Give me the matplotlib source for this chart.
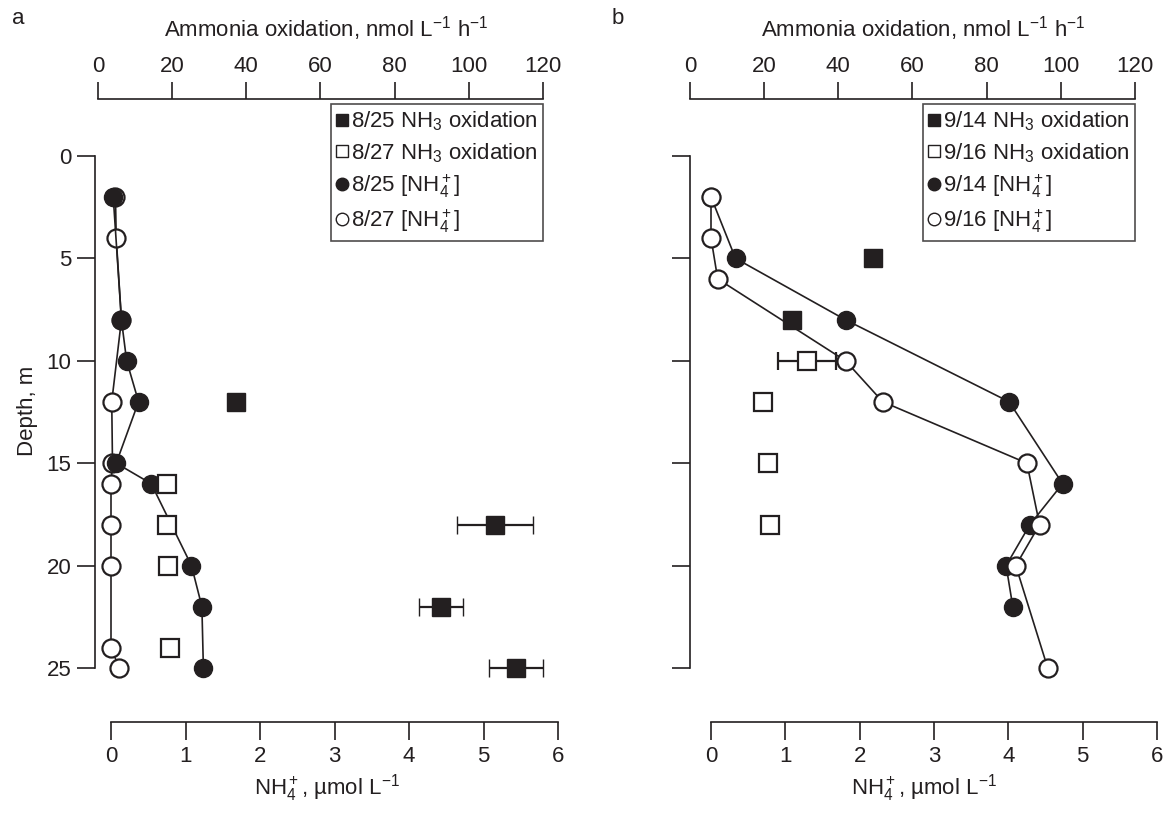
import matplotlib.pyplot as plt
from matplotlib.lines import Line2D

plt.rcParams['font.family'] = ['Liberation Sans', 'DejaVu Sans']
plt.rcParams['mathtext.fontset'] = 'custom'
plt.rcParams['mathtext.rm'] = 'Liberation Sans'
plt.rcParams['mathtext.it'] = 'Liberation Sans'
plt.rcParams['mathtext.default'] = 'regular'

INK = '#231f20'
FS = 16

# ---- panel a (8/25, 8/27) ----
a_nh4_fill_depth = [2, 8, 10, 12, 15, 16, 20, 22, 25]
a_nh4_fill = [0.03, 0.14, 0.21, 0.37, 0.07, 0.54, 1.08, 1.22, 1.24]
a_nh4_open_depth = [2, 4, 8, 12, 15, 16, 18, 20, 24, 25]
a_nh4_open = [0.06, 0.07, 0.14, 0.01, 0.02, 0.0, 0.0, 0.0, 0.0, 0.11]
a_ox_fill_depth = [12, 18, 22, 25]
a_ox_fill = [37.2, 107.1, 92.5, 112.7]
a_ox_fill_err = [0, 10.2, 5.9, 7.3]
a_ox_open_depth = [16, 18, 20, 24]
a_ox_open = [18.6, 18.6, 18.9, 19.4]
a_ox_open_err = [0, 0, 0, 0]
a_labels = ['8/25 NH$_3$ oxidation', '8/27 NH$_3$ oxidation',
            '8/25 [NH$_4^+$]', '8/27 [NH$_4^+$]']

# ---- panel b (9/14, 9/16) ----
b_nh4_fill_depth = [2, 5, 8, 12, 16, 18, 20, 22]
b_nh4_fill = [0.0, 0.33, 1.81, 4.01, 4.73, 4.29, 3.97, 4.06]
b_nh4_open_depth = [2, 4, 6, 10, 12, 15, 18, 20, 25]
b_nh4_open = [0.0, 0.0, 0.09, 1.81, 2.31, 4.25, 4.42, 4.10, 4.53]
b_ox_fill_depth = [5, 8]
b_ox_fill = [49.4, 27.5]
b_ox_fill_err = [0, 0]
b_ox_open_depth = [10, 12, 15, 18]
b_ox_open = [31.5, 19.7, 21.0, 21.6]
b_ox_open_err = [7.8, 0, 0, 0]
b_labels = ['9/14 NH$_3$ oxidation', '9/16 NH$_3$ oxidation',
            '9/14 [NH$_4^+$]', '9/16 [NH$_4^+$]']

W, H = 1172, 813
fig = plt.figure(figsize=(W / 100, H / 100), dpi=100)

# vertical layout in pixels: top axis line, depth 0, depth 25, bottom axis line
Y_TOP, Y_D0, Y_D25, Y_BOT = 99, 156, 668, 722
PX_M = (Y_D25 - Y_D0) / 25
YLIM = (25 + (Y_BOT - Y_D25) / PX_M, -(Y_D0 - Y_TOP) / PX_M)


def panel(x_left, x_right, nh4_0, ox_0, nh4_data, ox_data, labels,
          filled_on_top, depth_labels, leg_right):
    # nh4 axis: 0 at nh4_0 px, 6 at x_right px ; ox axis: 0 at ox_0, 3.708 px per unit
    px_nh4 = (x_right - nh4_0) / 6
    px_ox = 3.708
    ax = fig.add_axes([x_left / W, 1 - Y_BOT / H, (x_right - x_left) / W, (Y_BOT - Y_TOP) / H])
    ax.set_facecolor('none')
    ax.set_xlim(-(nh4_0 - x_left) / px_nh4, 6)
    ax.set_ylim(*YLIM)

    fd, fv, od, ov = nh4_data
    ms = 13
    z_fill, z_open = (3, 2) if filled_on_top else (2, 3)
    ax.plot(ov, od, '-o', color=INK, mfc='white', mec=INK, ms=ms,
            mew=1.6, lw=1.2, zorder=z_open, clip_on=False)
    ax.plot(fv, fd, '-o', color=INK, mfc=INK, mec=INK, ms=ms,
            mew=1.0, lw=1.2, zorder=z_fill, clip_on=False)

    ax.spines['right'].set_visible(False)
    ax.spines['top'].set_visible(False)
    ax.spines['bottom'].set_bounds(0, 6)
    ax.spines['left'].set_bounds(0, 25)
    for s in ('left', 'bottom'):
        ax.spines[s].set_color(INK)
        ax.spines[s].set_linewidth(1.2)
    ax.set_xticks(range(0, 7))
    ax.set_yticks([0, 5, 10, 15, 20, 25])
    if not depth_labels:
        ax.set_yticklabels([])
    ax.tick_params(direction='out', length=13, width=1.2, color=INK,
                   labelsize=FS, labelcolor=INK)
    ax.tick_params(axis='x', length=13, pad=4)
    ax.tick_params(axis='y', length=13, pad=4)
    ax.set_xlabel('NH$_4^+$, µmol L$^{-1}$', fontsize=FS, color=INK, labelpad=4)

    ax2 = ax.twiny()
    ax2.set_xlim(-(ox_0 - x_left) / px_ox, (x_right - ox_0) / px_ox)
    ax2.set_ylim(*YLIM)
    (sfd, sfv, sfe), (sod, sov, soe) = ox_data
    ax2.errorbar(sfv, sfd, xerr=sfe, fmt='s', color=INK, mfc=INK,
                 mec=INK, ms=12.5, mew=1.0, ecolor=INK, elinewidth=1.6,
                 capsize=6.5, capthick=1.6, zorder=4)
    ax2.errorbar(sov, sod, xerr=soe, fmt='s', color=INK, mfc='white',
                 mec=INK, ms=12.5, mew=1.6, ecolor=INK, elinewidth=1.6,
                 capsize=6.5, capthick=1.6, zorder=4)
    for s in ('left', 'right', 'bottom'):
        ax2.spines[s].set_visible(False)
    ax2.spines['top'].set_bounds(0, 120)
    ax2.spines['top'].set_color(INK)
    ax2.spines['top'].set_linewidth(1.2)
    ax2.set_xticks(range(0, 121, 20))
    ax2.tick_params(direction='out', length=12, width=1.2, color=INK,
                    labelsize=FS, labelcolor=INK, pad=4)
    ax2.set_xlabel('Ammonia oxidation, nmol L$^{-1}$ h$^{-1}$', fontsize=FS,
                   color=INK, labelpad=14)

    handles = [
        Line2D([], [], ls='none', marker='s', ms=9, mfc=INK, mec=INK),
        Line2D([], [], ls='none', marker='s', ms=9, mfc='white', mec=INK, mew=1.0),
        Line2D([], [], ls='none', marker='o', ms=9, mfc=INK, mec=INK),
        Line2D([], [], ls='none', marker='o', ms=9, mfc='white', mec=INK, mew=1.0),
    ]
    leg = ax2.legend(handles, labels, loc='upper right',
                     bbox_to_anchor=(leg_right / W, 1 - 104 / H),
                     bbox_transform=fig.transFigure, fontsize=FS,
                     frameon=True, fancybox=False, edgecolor=INK,
                     handlelength=0.5, handletextpad=0.15, borderpad=0.25,
                     labelspacing=0.35, borderaxespad=0)
    leg.get_frame().set_linewidth(1.2)
    for t in leg.get_texts():
        t.set_color(INK)

    if depth_labels:
        ax.set_ylabel('Depth, m', fontsize=FS, color=INK, labelpad=6)
    return ax, ax2


panel(95, 558, 111, 98,
      (a_nh4_fill_depth, a_nh4_fill, a_nh4_open_depth, a_nh4_open),
      ((a_ox_fill_depth, a_ox_fill, a_ox_fill_err),
       (a_ox_open_depth, a_ox_open, a_ox_open_err)),
      a_labels, True, True, 543)

panel(690, 1157, 711, 690,
      (b_nh4_fill_depth, b_nh4_fill, b_nh4_open_depth, b_nh4_open),
      ((b_ox_fill_depth, b_ox_fill, b_ox_fill_err),
       (b_ox_open_depth, b_ox_open, b_ox_open_err)),
      b_labels, False, False, 1135)

fig.text(12 / W, 1 - 18 / H, 'a', fontsize=FS, color=INK, ha='left', va='center')
fig.text(612 / W, 1 - 18 / H, 'b', fontsize=FS, color=INK, ha='left', va='center')

fig.savefig('out.png', dpi=100)
